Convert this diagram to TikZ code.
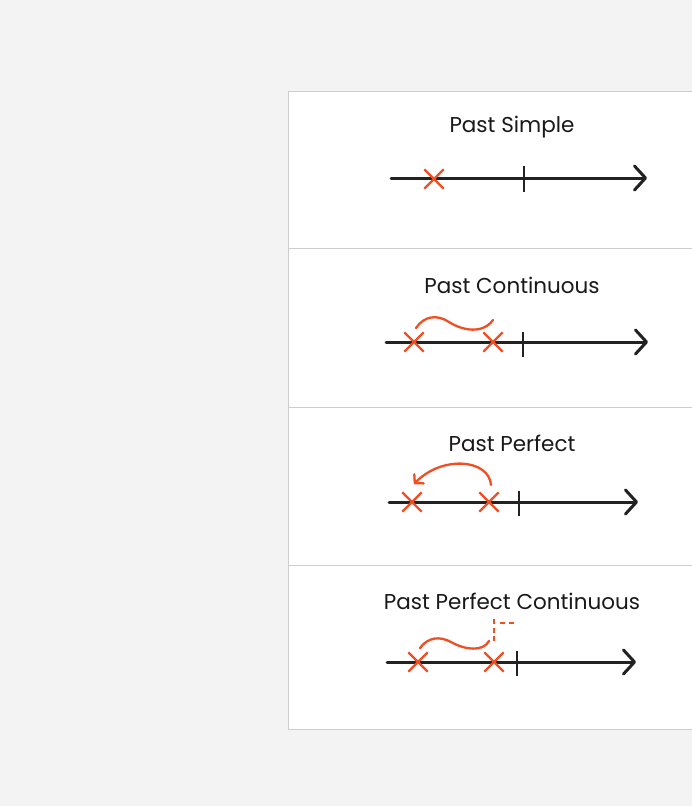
\documentclass[tikz,border=0pt]{standalone}
\usepackage{fontspec}
\setmainfont{Poppins}
\usetikzlibrary{arrows.meta,shapes.misc}

\definecolor{pagebg}{HTML}{F3F3F3}
\definecolor{cardline}{HTML}{CDCDCD}
\definecolor{markred}{HTML}{F04E23}
\definecolor{axisblack}{HTML}{222222}

\begin{document}
\begin{tikzpicture}[x=1pt, y=-1pt,
    % Styles
    title/.style={font=\fontsize{21.5}{25}\selectfont, text=black!90, anchor=center},
    timeline/.style={axisblack, line width=3pt, line cap=round,
        -{Straight Barb[length=11pt, width=24pt, line cap=round, line join=round]}},
    nowmark/.style={axisblack, line width=2.5pt},
    cross/.style={cross out, draw=markred, line width=2.3pt, minimum size=17pt, inner sep=0pt},
    wave/.style={markred, line width=2.3pt, line cap=round},
    jump/.style={markred, line width=2.3pt, line cap=round,
        -{Straight Barb[length=6pt, width=13pt, line cap=round, line join=round]}},
    gap/.style={markred, line width=2.3pt, dash pattern=on 5pt off 3.5pt},
]

% Page and card
\fill[pagebg] (0,0) rectangle (692,806);
\useasboundingbox (0,0) rectangle (692,806);
\filldraw[fill=white, draw=cardline, line width=1pt] (288.5,91.5) rectangle (694,729);
\draw[cardline, line width=1.2pt] (288.5,248.5) -- (694,248.5);
\draw[cardline, line width=1.2pt] (288.5,407.5) -- (694,407.5);
\draw[cardline, line width=1.2pt] (288.5,565.5) -- (694,565.5);

% Past Simple
\node[title] (t1) at (512,127) {Past Simple};
\coordinate (s1) at (391,178);
\coordinate (e1) at (647,178);
\draw[timeline] (s1) -- (e1);
\draw[nowmark] (524,166) -- (524,192);
\node[cross] (x1) at (434,179) {};

% Past Continuous
\node[title] (t2) at (512,285) {Past Continuous};
\coordinate (s2) at (386,342);
\coordinate (e2) at (648,342);
\draw[timeline] (s2) -- (e2);
\draw[nowmark] (523,332) -- (523,357);
\node[cross] (x2a) at (414,342) {};
\node[cross] (x2b) at (493,342) {};
\draw[wave] (416,328) .. controls (424,316) and (437,314) .. (449,322)
    .. controls (463,331) and (483,334) .. (493,320);

% Past Perfect
\node[title] (t3) at (512,443) {Past Perfect};
\coordinate (s3) at (389,502);
\coordinate (e3) at (638,502);
\draw[timeline] (s3) -- (e3);
\draw[nowmark] (519,491) -- (519,516);
\node[cross] (x3a) at (412,502) {};
\node[cross] (x3b) at (489,502) {};
\draw[jump] (491,485) .. controls (489,459) and (442,455) .. (414,484);

% Past Perfect Continuous
\node[title] (t4) at (512,601) {Past Perfect Continuous};
\coordinate (s4) at (387,662);
\coordinate (e4) at (636,662);
\draw[timeline] (s4) -- (e4);
\draw[nowmark] (517,651) -- (517,676);
\node[cross] (x4a) at (418,662) {};
\node[cross] (x4b) at (494,662) {};
\draw[wave] (420,648) .. controls (428,637) and (440,636) .. (451,642)
    .. controls (465,650) and (483,652) .. (489,641);
\draw[gap] (494,641) -- (494,616);
\draw[gap] (500,623) -- (516,623);

\end{tikzpicture}
\end{document}
